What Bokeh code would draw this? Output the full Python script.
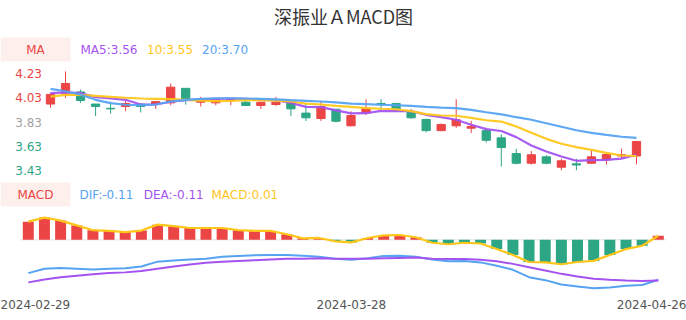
from bokeh.plotting import figure
from bokeh.models import Range1d, FixedTicker, ColumnDataSource, LabelSet, Label
from bokeh.embed import file_html
from bokeh.resources import INLINE
from bokeh.core.properties import value

title_text = "深振业ＡMACD图"

dates = ["2024-02-29", "2024-03-01", "2024-03-04", "2024-03-05", "2024-03-06", "2024-03-07",
         "2024-03-08", "2024-03-11", "2024-03-12", "2024-03-13", "2024-03-14", "2024-03-15",
         "2024-03-18", "2024-03-19", "2024-03-20", "2024-03-21", "2024-03-22", "2024-03-25",
         "2024-03-26", "2024-03-27", "2024-03-28", "2024-03-29", "2024-04-01", "2024-04-02",
         "2024-04-03", "2024-04-08", "2024-04-09", "2024-04-10", "2024-04-11", "2024-04-12",
         "2024-04-15", "2024-04-16", "2024-04-17", "2024-04-18", "2024-04-19", "2024-04-22",
         "2024-04-23", "2024-04-24", "2024-04-25", "2024-04-26"]
date_ticks = ["2024-02-29", "2024-03-28", "2024-04-26"]

open_ = [3.98, 4.07, 4.08, 3.98, 3.945, 3.96, 3.98, 3.976, 3.99, 4.11,
         3.995, 3.99, 4.01, 3.995, 3.968, 3.976, 3.995, 3.905, 3.86, 3.937,
         3.80, 3.905, 3.985, 3.985, 3.912, 3.852, 3.76, 3.80, 3.78, 3.76,
         3.70, 3.57, 3.49, 3.543, 3.457, 3.485, 3.49, 3.518, 3.55, 3.55]
close = [4.06, 4.15, 4.01, 3.96, 3.94, 3.985, 3.96, 4.00, 4.12, 4.01,
         4.012, 4.015, 4.02, 3.968, 3.995, 3.995, 3.94, 3.866, 3.96, 3.838,
         3.885, 3.945, 3.975, 3.94, 3.866, 3.76, 3.81, 3.85, 3.795, 3.68,
         3.62, 3.49, 3.56, 3.49, 3.51, 3.475, 3.543, 3.562, 3.56, 3.67]
high = [4.07, 4.25, 4.10, 3.98, 4.00, 4.01, 3.985, 4.005, 4.15, 4.11,
        4.04, 4.02, 4.03, 4.02, 4.00, 4.04, 4.00, 3.99, 4.00, 3.94,
        3.92, 4.02, 4.02, 3.99, 3.94, 3.86, 3.82, 4.02, 3.84, 3.785,
        3.73, 3.61, 3.59, 3.556, 3.527, 3.527, 3.60, 3.57, 3.61, 3.675]
low = [3.95, 4.03, 3.99, 3.88, 3.90, 3.92, 3.91, 3.94, 3.97, 3.975,
       3.96, 3.97, 3.97, 3.965, 3.94, 3.965, 3.88, 3.84, 3.84, 3.827,
       3.795, 3.89, 3.93, 3.92, 3.858, 3.745, 3.755, 3.783, 3.74, 3.662,
       3.463, 3.48, 3.479, 3.48, 3.432, 3.432, 3.488, 3.479, 3.53, 3.48]

ma5 = [4.070, 4.076, 4.070, 4.037, 4.026, 4.015, 3.976, 3.976, 3.999, 4.012,
       4.018, 4.022, 4.026, 4.023, 4.015, 4.012, 3.990, 3.957, 3.954, 3.927,
       3.903, 3.904, 3.924, 3.921, 3.921, 3.891, 3.871, 3.850, 3.808, 3.772,
       3.757, 3.706, 3.637, 3.587, 3.546, 3.510, 3.515, 3.518, 3.528, 3.560]
ma10 = [4.042, 4.056, 4.056, 4.048, 4.040, 4.032, 4.026, 4.023, 4.020, 4.015,
        4.008, 4.004, 4.005, 4.012, 4.012, 4.009, 4.001, 3.984, 3.976, 3.965,
        3.956, 3.946, 3.941, 3.937, 3.921, 3.896, 3.885, 3.883, 3.866, 3.846,
        3.835, 3.794, 3.742, 3.692, 3.651, 3.623, 3.601, 3.576, 3.554, 3.550]
ma20 = [4.106, 4.086, 4.059, 4.015, 3.987, 3.974, 3.970, 3.976, 4.001, 4.015,
        4.023, 4.028, 4.028, 4.026, 4.023, 4.018, 4.012, 4.007, 4.001, 3.993,
        3.984, 3.979, 3.974, 3.970, 3.965, 3.957, 3.951, 3.946, 3.932, 3.912,
        3.895, 3.871, 3.850, 3.821, 3.792, 3.763, 3.742, 3.725, 3.709, 3.700]

dif = [-0.090, -0.078, -0.076, -0.078, -0.080, -0.078, -0.077, -0.072, -0.059, -0.056,
       -0.053, -0.051, -0.046, -0.044, -0.042, -0.041, -0.041, -0.043, -0.046, -0.051,
       -0.054, -0.050, -0.044, -0.043, -0.046, -0.053, -0.058, -0.057, -0.061, -0.070,
       -0.081, -0.101, -0.109, -0.121, -0.126, -0.131, -0.129, -0.124, -0.122, -0.108]
dea = [-0.115, -0.107, -0.101, -0.097, -0.093, -0.090, -0.088, -0.084, -0.078, -0.072,
       -0.067, -0.062, -0.059, -0.057, -0.055, -0.053, -0.051, -0.051, -0.050, -0.051,
       -0.051, -0.051, -0.050, -0.049, -0.048, -0.051, -0.052, -0.052, -0.054, -0.058,
       -0.065, -0.074, -0.083, -0.092, -0.099, -0.105, -0.108, -0.110, -0.111, -0.110]
macd = [0.049, 0.060, 0.052, 0.039, 0.026, 0.024, 0.021, 0.025, 0.041, 0.037,
        0.032, 0.032, 0.032, 0.026, 0.024, 0.024, 0.015, 0.004, 0.005, -0.004,
        -0.007, 0.005, 0.012, 0.013, 0.007, -0.008, -0.012, -0.008, -0.010, -0.025,
        -0.041, -0.060, -0.061, -0.066, -0.060, -0.057, -0.041, -0.025, -0.016, 0.011]

price_ticks = [4.23, 4.03, 3.83, 3.63, 3.43]

RED = "#eb4545"
GREEN = "#2ca685"
PURPLE = "#a453f0"
YELLOW = "#ffc61a"
BLUE = "#56a3f2"
FONT = "DejaVu Sans"

idx = list(range(len(dates)))

p = figure(width=686, height=320, output_backend="svg", toolbar_location=None, title=None,
           x_range=Range1d(-1.721, 40.746), y_range=Range1d(-0.1505, 0.6468),
           y_axis_location=None, min_border=0, min_border_bottom=25,
           outline_line_color=None, background_fill_color="white", border_fill_color="white")
p.extra_x_ranges = {"k": Range1d(-3.328, 42.328), "px": Range1d(0, 686)}
p.extra_y_ranges = {"k": Range1d(2.3951, 4.8371), "px": Range1d(295, 0)}
p.grid.visible = False

# x axis (dates)
tick_idx = [dates.index(d) for d in date_ticks]
ax = p.xaxis[0]
ax.ticker = FixedTicker(ticks=tick_idx)
ax.major_label_overrides = {i: d for i, d in zip(tick_idx, date_ticks)}
ax.axis_line_color = None
ax.major_tick_line_color = None
ax.minor_tick_line_color = None
ax.major_tick_out = 0
ax.major_tick_in = 0
ax.major_label_standoff = 4
ax.major_label_text_font = FONT
ax.major_label_text_font_size = "12px"
ax.major_label_text_color = "#555555"

# ---- candles ----
up = [c >= o for o, c in zip(open_, close)]
ccolor = [RED if u else GREEN for u in up]
csrc = ColumnDataSource(dict(x=idx, high=high, low=low,
                             top=[max(o, c) for o, c in zip(open_, close)],
                             bottom=[min(o, c) for o, c in zip(open_, close)],
                             color=ccolor))
p.segment(x0="x", x1="x", y0="low", y1="high", color="color", line_width=1, source=csrc,
          x_range_name="k", y_range_name="k")
p.vbar(x="x", top="top", bottom="bottom", width=0.55, fill_color="color", line_color="color",
       line_width=1, source=csrc, x_range_name="k", y_range_name="k")

for ser, col in ((ma5, PURPLE), (ma10, YELLOW), (ma20, BLUE)):
    p.line(idx, ser, line_color=col, line_width=2.2, line_alpha=0.95,
           x_range_name="k", y_range_name="k")

tick_colors = [RED if t > 3.93 else ("#a3a3a3" if abs(t - 3.83) < 1e-9 else GREEN) for t in price_ticks]
tsrc = ColumnDataSource(dict(x=[-0.5] * len(price_ticks), y=price_ticks,
                             text=[f"{t:.2f}" for t in price_ticks], color=tick_colors))
p.add_layout(LabelSet(x="x", y="y", text="text", source=tsrc, x_range_name="k", y_range_name="k",
                      text_align="right", text_baseline="middle", x_offset=-1,
                      text_font=value(FONT), text_font_size="12px", text_color="color"))

# ---- MACD ----
p.segment(x0=[-0.5], x1=[39.5], y0=[0], y1=[0], line_color="#e3e3e3", line_width=1)
mcolor = [RED if m >= 0 else GREEN for m in macd]
msrc = ColumnDataSource(dict(x=idx, top=macd, color=mcolor))
p.vbar(x="x", top="top", bottom=0, width=0.68, fill_color="color", line_color=None, source=msrc)
p.line(idx, macd, line_color=YELLOW, line_width=2.2)
p.line(idx, dif, line_color=BLUE, line_width=2)
p.line(idx, dea, line_color=PURPLE, line_width=2)

# ---- title & legends ----
p.add_layout(Label(x=343, y=15, x_range_name="px", y_range_name="px", text=title_text,
                   text_align="center", text_baseline="middle", text_font="Noto Sans CJK SC",
                   text_font_size="18px", text_color="#333333"))

p.quad(left=[0, 0], right=[70, 70], top=[37, 182], bottom=[61, 206], fill_color="#fdf0ec",
       line_color=None, x_range_name="px", y_range_name="px")

legend_items = [
    ("MA", 35, 49, RED, "center"),
    (f"MA5:{ma5[-1]:.2f}", 80, 49, PURPLE, "left"),
    (f"10:{ma10[-1]:.2f}", 146.5, 49, YELLOW, "left"),
    (f"20:{ma20[-1]:.2f}", 201.5, 49, BLUE, "left"),
    ("MACD", 35, 194, RED, "center"),
    (f"DIF:{dif[-1]:.2f}", 79, 194, BLUE, "left"),
    (f"DEA:{dea[-1]:.2f}", 143.3, 194, PURPLE, "left"),
    (f"MACD:{macd[-1]:.2f}", 211, 194, YELLOW, "left"),
]
for txt, lx, ly, col, al in legend_items:
    p.add_layout(Label(x=lx, y=ly, x_range_name="px", y_range_name="px", text=txt,
                       text_align=al, text_baseline="middle", text_font=FONT,
                       text_font_size="12px", text_color=col))

open("out.html", "w").write(file_html(p, INLINE))
